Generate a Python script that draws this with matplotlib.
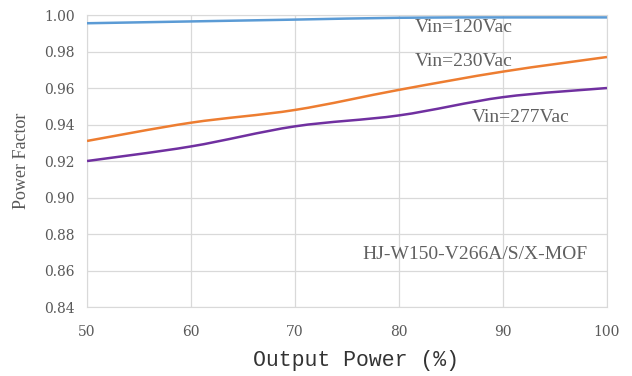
import numpy as np
import matplotlib
matplotlib.use("Agg")
import matplotlib.pyplot as plt
from matplotlib.path import Path
from matplotlib.patches import PathPatch

load = [50, 60, 70, 80, 90, 100]
pf_120 = [0.9955, 0.9965, 0.9975, 0.9985, 0.9987, 0.9987]
pf_230 = [0.931, 0.941, 0.948, 0.959, 0.969, 0.977]
pf_277 = [0.920, 0.928, 0.939, 0.945, 0.955, 0.960]
series = [("Vin=120Vac", pf_120, "#5b9bd5"),
          ("Vin=230Vac", pf_230, "#ed7d31"),
          ("Vin=277Vac", pf_277, "#7030a0")]
yticks = [0.84, 0.86, 0.88, 0.90, 0.92, 0.94, 0.96, 0.98, 1.00]
xticks = [50, 60, 70, 80, 90, 100]

def smooth_path(xs, ys, t=1/6):
    xs = np.asarray(xs, float); ys = np.asarray(ys, float)
    verts = [(xs[0], ys[0])]; codes = [Path.MOVETO]
    n = len(xs)
    for i in range(n - 1):
        p0 = np.array([xs[max(i-1, 0)], ys[max(i-1, 0)]])
        p1 = np.array([xs[i], ys[i]])
        p2 = np.array([xs[i+1], ys[i+1]])
        p3 = np.array([xs[min(i+2, n-1)], ys[min(i+2, n-1)]])
        c1 = p1 + (p2 - p0) * t
        c2 = p2 - (p3 - p1) * t
        verts += [tuple(c1), tuple(c2), tuple(p2)]
        codes += [Path.CURVE4] * 3
    return Path(verts, codes)

fig = plt.figure(figsize=(6.32, 3.76), dpi=100)
ax = fig.add_axes([0.1377, 0.1835, 0.8227, 0.7765])
for name, vals, col in series:
    ax.add_patch(PathPatch(smooth_path(load, vals), fill=False, edgecolor=col, lw=1.8, zorder=3))

ax.set_xlim(50, 100)
ax.set_ylim(0.84, 1.00)
ax.set_xticks(xticks)
ax.set_yticks(yticks)
ax.set_yticklabels([f"{v:.2f}" for v in yticks])
ax.grid(True, color="#d9d9d9", lw=0.9)
ax.set_axisbelow(True)
for s in ax.spines.values():
    s.set_color("#d9d9d9")
ax.tick_params(length=0, colors="#595959", labelsize=10)
ax.tick_params(axis="x", pad=13)
ax.tick_params(axis="y", pad=9)
for lab in ax.get_xticklabels() + ax.get_yticklabels():
    lab.set_fontfamily("DejaVu Serif")

tc = "#606060"
ax.text(81.5, 0.9929, "Vin=120Vac", family="Liberation Serif", fontsize=14, color=tc, va="center")
ax.text(81.5, 0.9748, "Vin=230Vac", family="Liberation Serif", fontsize=14, color=tc, va="center")
ax.text(87.0, 0.9436, "Vin=277Vac", family="Liberation Serif", fontsize=14, color=tc, va="center")
ax.text(76.5, 0.8685, "HJ-W150-V266A/S/X-MOF", family="Liberation Serif", fontsize=14, color=tc, va="center")

ax.set_xlabel("Output Power (%)", family="Liberation Mono", fontsize=15.5, color="#333333", labelpad=8)
ax.xaxis.label.set_x(0.517)
ax.set_ylabel("Power Factor", family="Liberation Serif", fontsize=13, color="#595959", labelpad=10)

fig.savefig("out.png", dpi=100, facecolor="white")
